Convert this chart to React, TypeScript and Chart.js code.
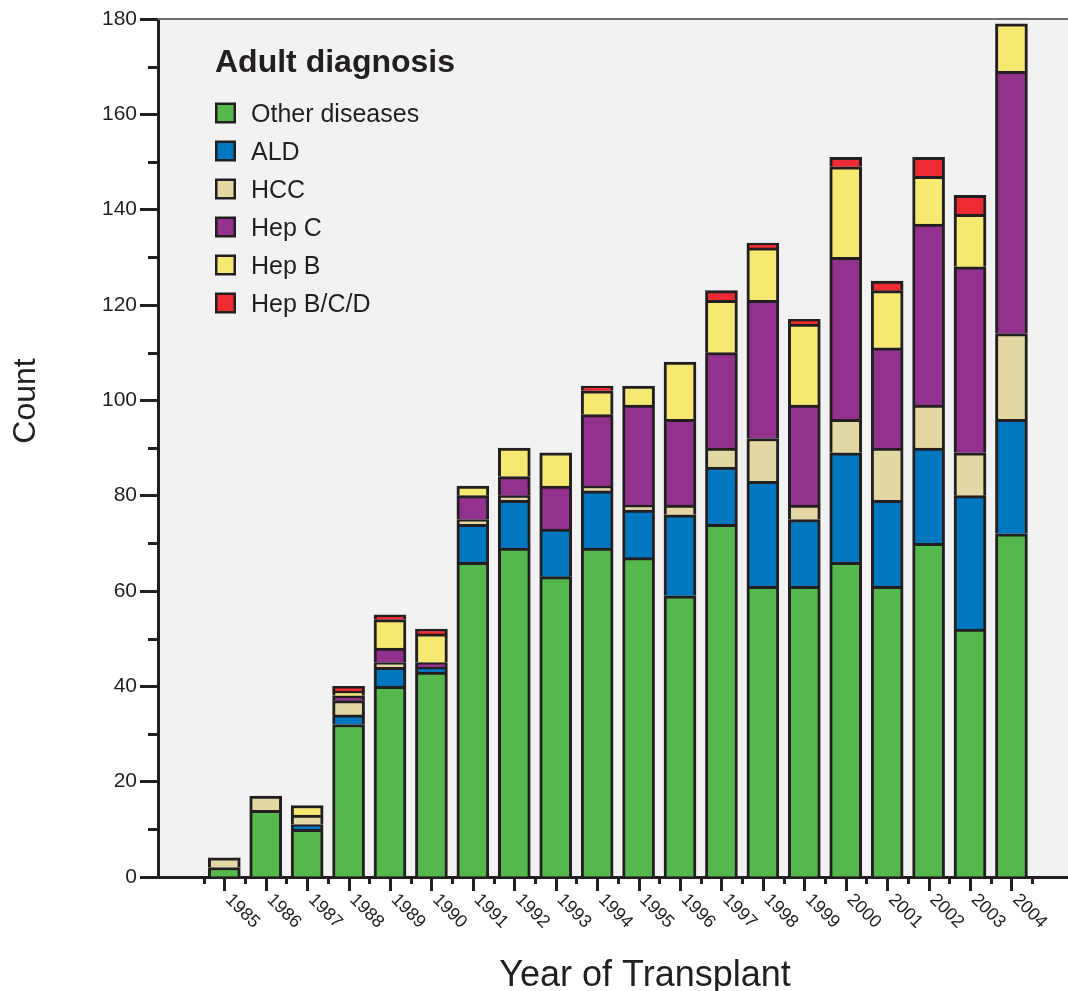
import React, { useEffect, useRef } from "react";
import { Chart, registerables } from "chart.js";

Chart.register(...registerables);

// ---- data ----
const years = [1985, 1986, 1987, 1988, 1989, 1990, 1991, 1992, 1993, 1994, 1995, 1996, 1997, 1998, 1999, 2000, 2001, 2002, 2003, 2004];
const otherDiseases = [2, 14, 10, 32, 40, 43, 66, 69, 63, 69, 67, 59, 74, 61, 61, 66, 61, 70, 52, 72];
const ald = [0, 0, 1, 2, 4, 1, 8, 10, 10, 12, 10, 17, 12, 22, 14, 23, 18, 20, 28, 24];
const hcc = [2, 3, 2, 3, 1, 0, 1, 1, 0, 1, 1, 2, 4, 9, 3, 7, 11, 9, 9, 18];
const hepC = [0, 0, 0, 1, 3, 1, 5, 4, 9, 15, 21, 18, 20, 29, 21, 34, 21, 38, 39, 55];
const hepB = [0, 0, 2, 1, 6, 6, 2, 6, 7, 5, 4, 12, 11, 11, 17, 19, 12, 10, 11, 10];
const hepBCD = [0, 0, 0, 1, 1, 1, 0, 0, 0, 1, 0, 0, 2, 1, 1, 2, 2, 4, 4, 0];

const seriesLabels = ["Other diseases", "ALD", "HCC", "Hep C", "Hep B", "Hep B/C/D"];
const seriesValues = [otherDiseases, ald, hcc, hepC, hepB, hepBCD];
const seriesColors = ["#55B84C", "#0077BF", "#E3D8A4", "#93328E", "#F5E971", "#EE2A33"];

const legendTitle = "Adult diagnosis";
const xTitle = "Year of Transplant";
const yTitle = "Count";
const yMin = 0;
const yMax = 180;
const yMajorStep = 20;
const yMinorStep = 10;
const xMin = 1983.4;
const xMax = 2005.365;

const FONT = '"Liberation Sans", Arial, Helvetica, sans-serif';
const INK = "#231F20";

const decorPlugin = {
  id: "decor",
  beforeDraw(chart: any) {
    const { ctx, chartArea: a } = chart;
    ctx.save();
    ctx.fillStyle = "#F2F2F2";
    ctx.fillRect(a.left, a.top, a.right - a.left, a.bottom - a.top);
    ctx.restore();
  },
  afterDraw(chart: any) {
    const { ctx, chartArea: a, scales } = chart;
    const xs = scales.x;
    const ys = scales.y;
    ctx.save();

    // top frame line
    ctx.strokeStyle = "#6D6E70";
    ctx.lineWidth = 2;
    ctx.beginPath();
    ctx.moveTo(a.left, a.top);
    ctx.lineTo(a.right, a.top);
    ctx.stroke();

    // minor y ticks
    ctx.strokeStyle = INK;
    ctx.lineWidth = 3;
    for (let v = yMin + yMinorStep; v < yMax; v += yMajorStep) {
      const py = Math.round(ys.getPixelForValue(v)) + 0.5;
      ctx.beginPath();
      ctx.moveTo(a.left - 10, py);
      ctx.lineTo(a.left, py);
      ctx.stroke();
    }

    // x ticks: long at each year, short between
    years.forEach((yr, i) => {
      const px = Math.round(xs.getPixelForValue(yr)) + 0.5;
      ctx.beginPath();
      ctx.moveTo(px, a.bottom);
      ctx.lineTo(px, a.bottom + 14);
      ctx.stroke();
      const halves = i === years.length - 1 ? [yr - 0.5, yr + 0.5] : [yr - 0.5];
      halves.forEach((h) => {
        const ph = Math.round(xs.getPixelForValue(h)) + 0.5;
        ctx.beginPath();
        ctx.moveTo(ph, a.bottom);
        ctx.lineTo(ph, a.bottom + 7);
        ctx.stroke();
      });
    });

    // x tick labels rotated 45deg clockwise
    ctx.fillStyle = INK;
    ctx.font = `18px ${FONT}`;
    ctx.textAlign = "left";
    ctx.textBaseline = "middle";
    years.forEach((yr) => {
      const px = xs.getPixelForValue(yr);
      ctx.save();
      ctx.translate(px + 4, a.bottom + 20);
      ctx.rotate(Math.PI / 4);
      ctx.fillText(String(yr), 0, 0);
      ctx.restore();
    });

    // axis titles
    ctx.textBaseline = "alphabetic";
    ctx.textAlign = "center";
    ctx.font = `36px ${FONT}`;
    ctx.fillText(xTitle, 645, 986);

    ctx.save();
    ctx.font = `32px ${FONT}`;
    ctx.translate(35, 401);
    ctx.rotate(-Math.PI / 2);
    ctx.fillText(yTitle, 0, 0);
    ctx.restore();

    // legend inside plot
    const lx = a.left + 57;
    ctx.textAlign = "left";
    ctx.font = `bold 32px ${FONT}`;
    ctx.fillText(legendTitle, lx, a.top + 53);
    ctx.font = `25px ${FONT}`;
    chart.data.datasets.forEach((ds: any, i: number) => {
      const cy = a.top + 94 + 38 * i;
      ctx.fillStyle = INK;
      ctx.fillRect(lx, cy - 10.5, 21, 21);
      ctx.fillStyle = ds.backgroundColor;
      ctx.fillRect(lx + 2.5, cy - 8, 16, 16);
      ctx.fillStyle = INK;
      ctx.fillText(ds.label, lx + 36, cy + 8.5);
    });

    ctx.restore();
  },
};

export default function App() {
  const canvasRef = useRef<HTMLCanvasElement | null>(null);

  useEffect(() => {
    if (!canvasRef.current) return;
    const datasets = seriesLabels.map((label, si) => ({
      label,
      data: years.map((yr, i) => ({ x: yr, y: seriesValues[si][i] })),
      backgroundColor: seriesColors[si],
      borderColor: INK,
      borderWidth: 3,
      barThickness: 32,
    }));
    const chart = new Chart(canvasRef.current, {
      type: "bar",
      data: { datasets },
      options: {
        animation: false,
        responsive: true,
        maintainAspectRatio: false,
        layout: { padding: { top: 19, right: 0, left: 0, bottom: 0 } },
        plugins: { legend: { display: false }, tooltip: { enabled: false } },
        scales: {
          x: {
            type: "linear",
            offset: false,
            bounds: "data",
            stacked: true,
            min: xMin,
            max: xMax,
            ticks: { display: false },
            grid: { display: false, offset: false },
            border: { display: true, width: 3, color: INK },
            afterFit: (s: any) => {
              s.height = 114;
            },
          },
          y: {
            stacked: true,
            min: yMin,
            max: yMax,
            ticks: { stepSize: yMajorStep, padding: 3, color: INK, font: { family: FONT, size: 21 } },
            grid: { display: true, drawOnChartArea: false, drawTicks: true, tickLength: 18, tickWidth: 3, tickColor: INK },
            border: { display: true, width: 3, color: INK },
            afterFit: (s: any) => {
              s.width = 158;
            },
          },
        },
      },
      plugins: [decorPlugin],
    } as any);
    return () => chart.destroy();
  }, []);

  return (
    <div style={{ position: "fixed", left: 0, top: 0, width: 1068, height: 991, background: "#ffffff" }}>
      <canvas ref={canvasRef} />
    </div>
  );
}
